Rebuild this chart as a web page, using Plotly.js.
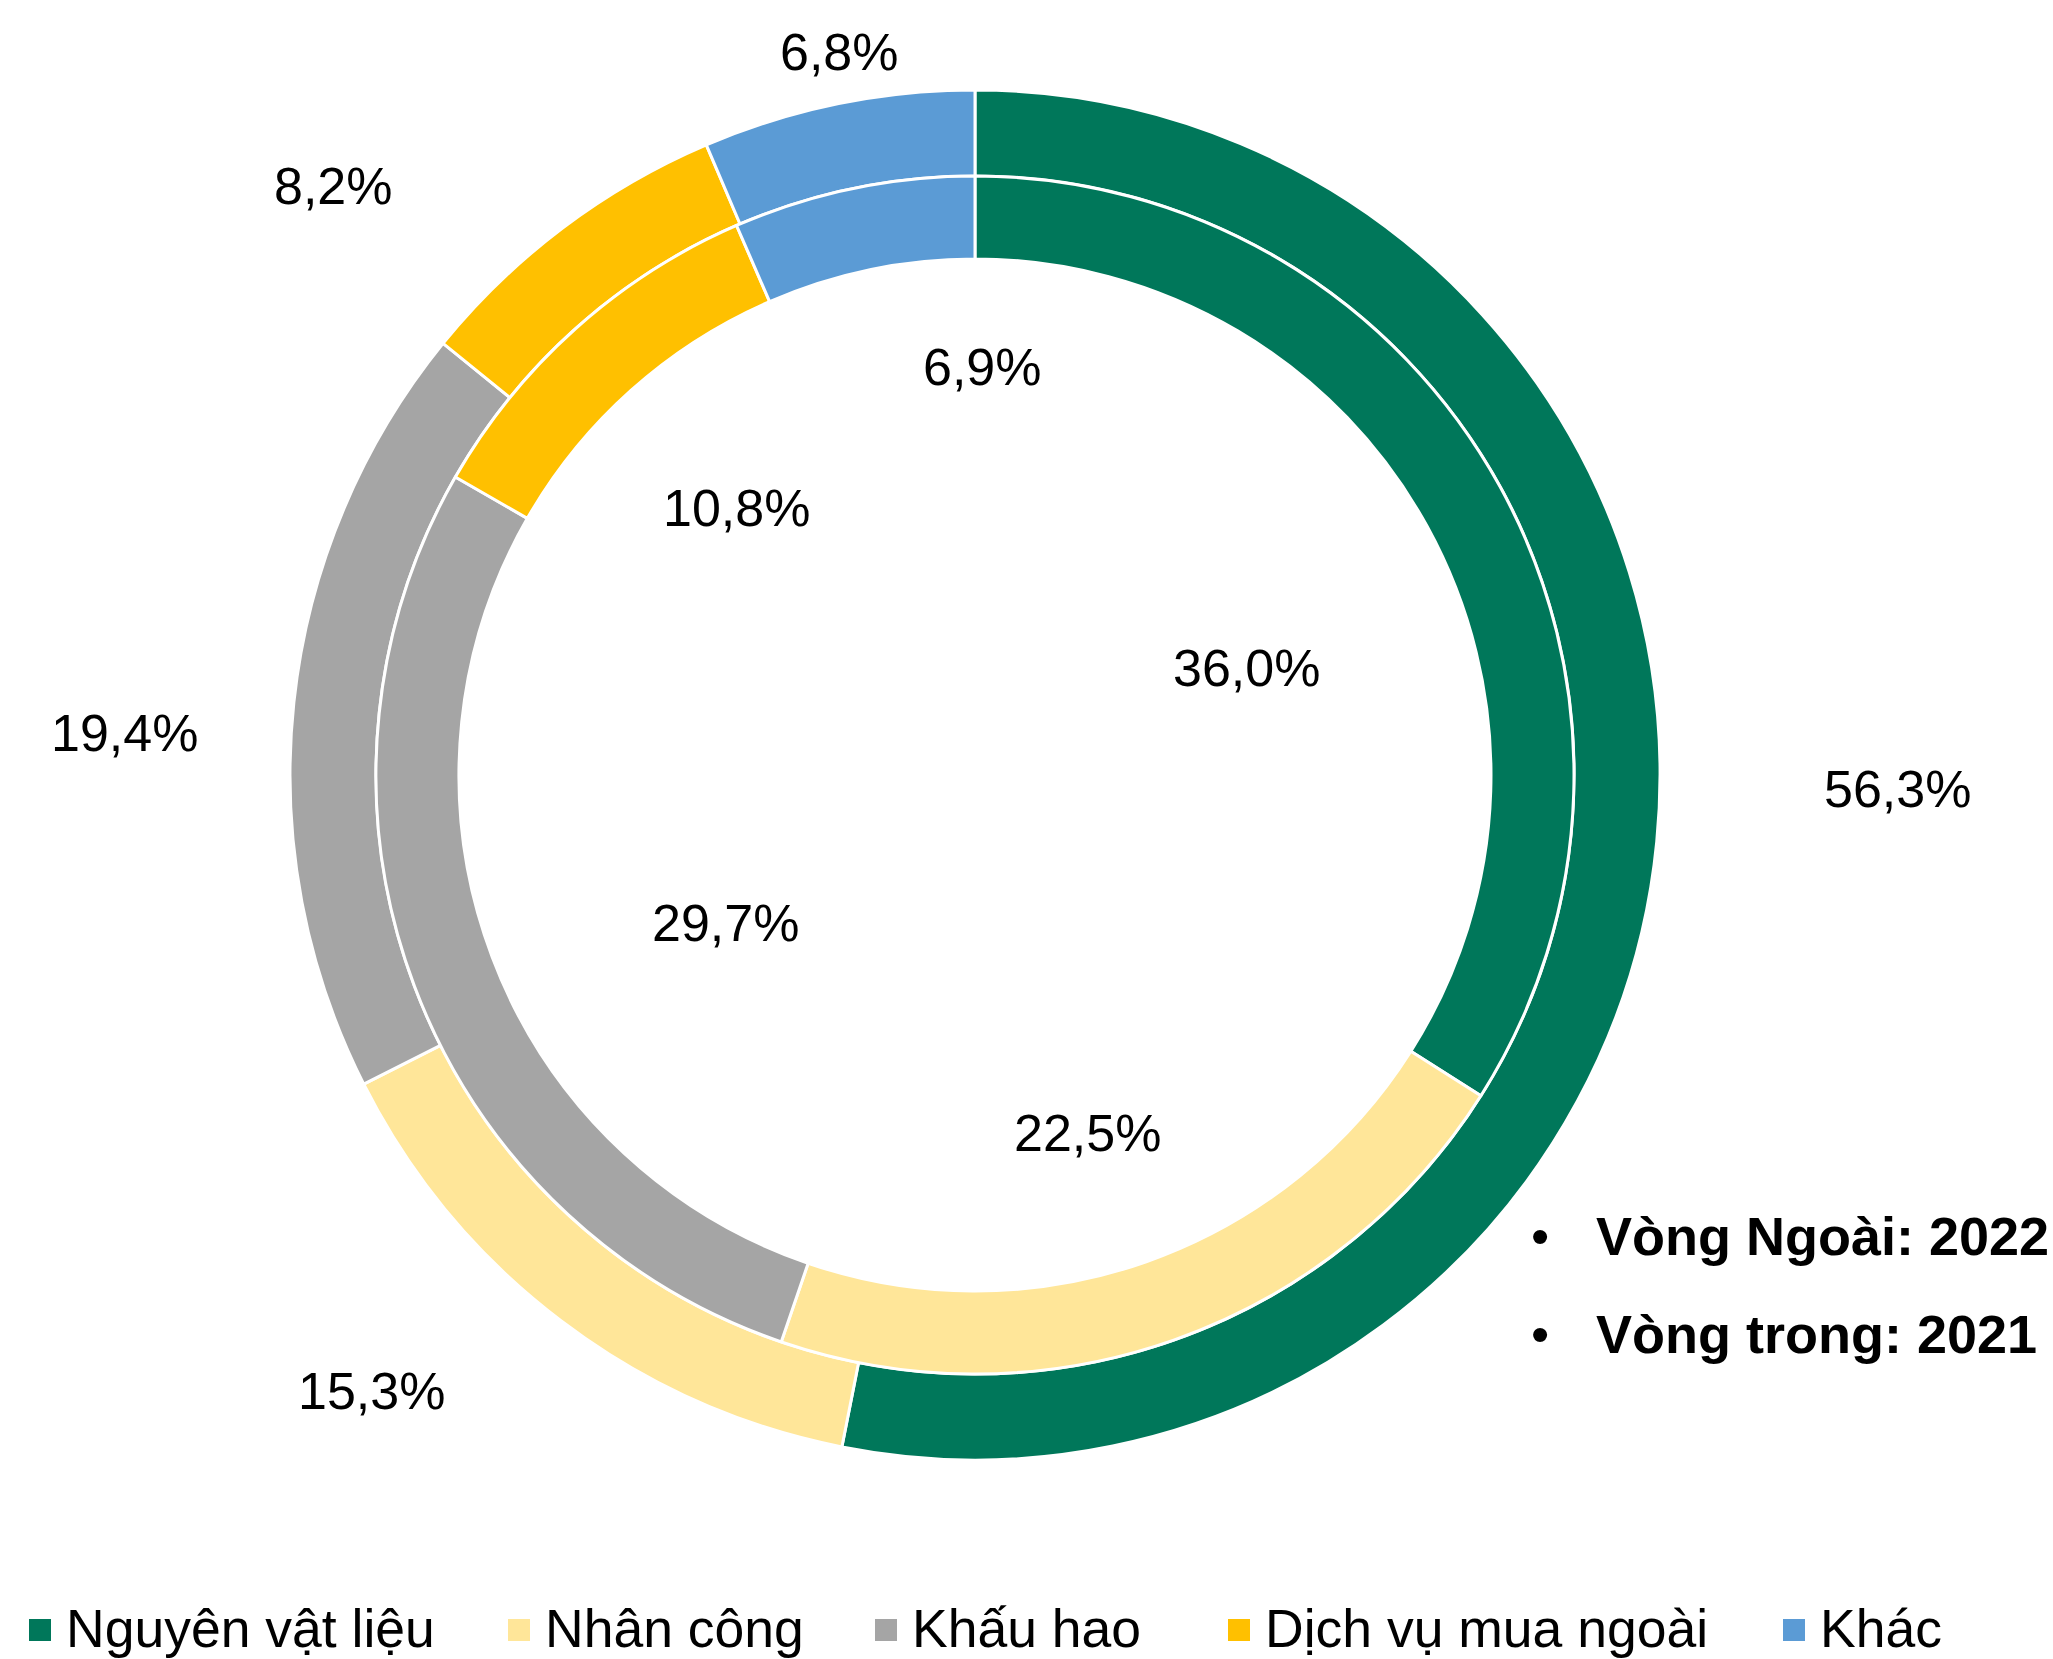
<!DOCTYPE html>
<html>
<head>
<meta charset="utf-8">
<script src="https://cdn.plot.ly/plotly-3.0.1.min.js"></script>
<style>
html,body{margin:0;padding:0;background:#ffffff;}
#chart{width:2053px;height:1659px;}
</style>
</head>
<body>
<div id="chart"></div>
<script>
// ---- data ----
const categories = ["Nguyên vật liệu", "Nhân công", "Khấu hao", "Dịch vụ mua ngoài", "Khác"];
const values2022 = [56.3, 15.3, 19.4, 8.2, 6.8];   // outer ring
const values2021 = [36.0, 22.5, 29.7, 10.8, 6.9];  // inner ring
const ringNotes = ["Vòng Ngoài: 2022", "Vòng trong: 2021"];

// ---- style / layout constants ----
const colors = ["#00775A", "#FFE699", "#A5A5A5", "#FFC000", "#5B9BD5"];
const W = 2053, H = 1659;
const CX = 975, CY = 775;
const R_OUT = 685, R_MID = 599, R_IN = 516;
const FONT = "Liberation Sans, Arial, Helvetica, sans-serif";
const FS = 52;
const LFS = 53.5;

// label positions (px, page coordinates) for each slice label
const outerLabelPos = [[1897, 789], [371, 1391], [124, 733], [333, 186], [839, 52]];
const innerLabelPos = [[1246, 668], [1087, 1133], [725, 923], [736, 508], [982, 367]];
// legend item left edges (px)
const legendX = [29, 508, 875, 1228, 1783];
const legendY = 1630, SQ = 22;

const px = x => x / W;
const py = y => 1 - y / H;
const fmt = v => v.toFixed(1).replace('.', ',') + '%';

function domainFor(r) {
  return {x: [px(CX - r), px(CX + r)], y: [py(CY + r), py(CY - r)]};
}

const outer = {
  type: 'pie', values: values2022, labels: categories,
  sort: false, direction: 'clockwise', rotation: 0,
  hole: R_MID / R_OUT, domain: domainFor(R_OUT),
  marker: {colors: colors, line: {color: '#ffffff', width: 3}},
  textinfo: 'none', hovertemplate: '%{label}: %{value}%<extra>2022</extra>',
  showlegend: false
};
const inner = {
  type: 'pie', values: values2021, labels: categories,
  sort: false, direction: 'clockwise', rotation: 0,
  hole: R_IN / R_MID, domain: domainFor(R_MID),
  marker: {colors: colors, line: {color: '#ffffff', width: 3}},
  textinfo: 'none', hovertemplate: '%{label}: %{value}%<extra>2021</extra>',
  showlegend: false
};

const annotations = [];
const shapes = [];
values2022.forEach((v, i) => {
  annotations.push({xref: 'paper', yref: 'paper', x: px(outerLabelPos[i][0]), y: py(outerLabelPos[i][1]),
    xanchor: 'center', yanchor: 'middle', showarrow: false, text: fmt(v),
    font: {family: FONT, size: FS, color: '#000'}});
});
values2021.forEach((v, i) => {
  annotations.push({xref: 'paper', yref: 'paper', x: px(innerLabelPos[i][0]), y: py(innerLabelPos[i][1]),
    xanchor: 'center', yanchor: 'middle', showarrow: false, text: fmt(v),
    font: {family: FONT, size: FS, color: '#000'}});
});
// ring notes
const noteY = [1236, 1334];
ringNotes.forEach((t, i) => {
  annotations.push({xref: 'paper', yref: 'paper', x: px(1540), y: py(noteY[i]),
    xanchor: 'center', yanchor: 'middle', showarrow: false, text: '•',
    font: {family: FONT, size: FS, color: '#000'}});
  annotations.push({xref: 'paper', yref: 'paper', x: px(1594), y: py(noteY[i]),
    xanchor: 'left', yanchor: 'middle', showarrow: false, text: '<b>' + t + '</b>',
    font: {family: FONT, size: 54, color: '#000'}});
});
// legend
categories.forEach((c, i) => {
  const x0 = legendX[i];
  shapes.push({type: 'rect', xref: 'paper', yref: 'paper',
    x0: px(x0), x1: px(x0 + SQ), y0: py(legendY + SQ / 2), y1: py(legendY - SQ / 2),
    fillcolor: colors[i], line: {width: 0}});
  annotations.push({xref: 'paper', yref: 'paper', x: px(x0 + SQ + 13), y: py(legendY - 2),
    xanchor: 'left', yanchor: 'middle', showarrow: false, text: c,
    font: {family: FONT, size: LFS, color: '#000'}});
});

const layout = {
  width: W, height: H, autosize: false,
  margin: {l: 0, r: 0, t: 0, b: 0, pad: 0},
  paper_bgcolor: '#ffffff', plot_bgcolor: '#ffffff',
  showlegend: false,
  annotations: annotations, shapes: shapes
};

Plotly.newPlot('chart', [outer, inner], layout, {displayModeBar: false, staticPlot: true});
</script>
</body>
</html>
